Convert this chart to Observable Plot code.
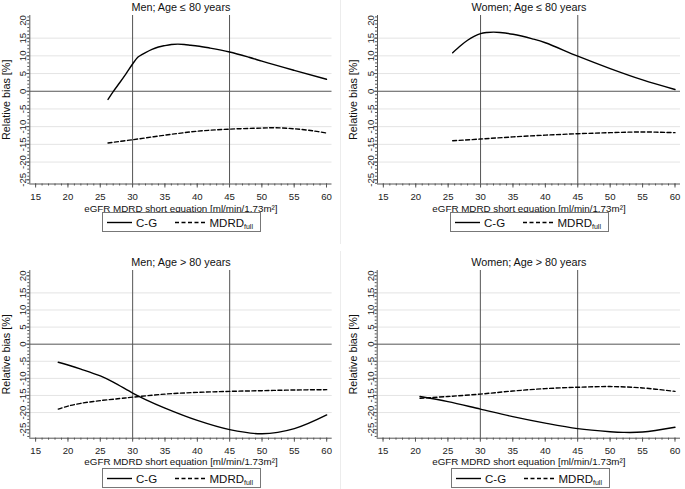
<!DOCTYPE html>
<html>
<head>
<meta charset="utf-8">
<script src="https://cdn.jsdelivr.net/npm/d3@7"></script>
<script src="https://cdn.jsdelivr.net/npm/@observablehq/plot@0.6"></script>
<style>
  html, body { margin: 0; padding: 0; background: #fff; }
  #wrap { position: relative; width: 685px; height: 489px; overflow: hidden; font-family: "Liberation Sans", Arial, sans-serif; }
  .panel { position: absolute; }
  .panel svg { overflow: visible; }
  .legend { position: absolute; box-sizing: border-box; border: 1px solid #777; background: #fff; }
  .sep { position: absolute; width: 1px; background: #ececec; }
</style>
</head>
<body>
<div id="wrap"></div>
<script>
// ---- Tick labels / reference values ----
const xTicks = [15, 20, 25, 30, 35, 40, 45, 50, 55, 60];
const yTicks = [-25, -20, -15, -10, -5, 0, 5, 10, 15, 20];
const gridY = [-20, -15, -10, -5, 5, 10, 15];
const refX = [30, 45];
const titles = ["Men; Age \u2264 80 years", "Women; Age \u2264 80 years", "Men; Age > 80 years", "Women; Age > 80 years"];
const xLabel = "eGFR MDRD short equation [ml/min/1.73m\u00B2]";
const yLabel = "Relative bias [%]";
const seriesNames = ["C-G", "MDRD"];

// ---- Men, age <= 80 ----
const menLo_cg_x = [26.2, 27, 28, 29, 30, 30.8, 31.5, 32, 33, 34, 35, 36, 37, 38, 39, 40, 42, 45, 48, 50, 55, 60];
const menLo_cg_y = [-2.3, -0.1, 2.4, 5.0, 7.7, 9.6, 10.4, 10.9, 11.8, 12.5, 12.9, 13.2, 13.3, 13.2, 13.0, 12.8, 12.2, 11.1, 9.6, 8.5, 5.9, 3.4];
const menLo_md_x = [26.2, 30, 35, 40, 45, 50, 52, 55, 58, 60];
const menLo_md_y = [-14.6, -13.7, -12.4, -11.3, -10.7, -10.4, -10.3, -10.6, -11.2, -11.8];

// ---- Women, age <= 80 ----
const womLo_cg_x = [25.7, 27, 28, 29, 30, 31, 32, 33, 35, 38, 40, 45, 50, 55, 60];
const womLo_cg_y = [10.9, 13.0, 14.4, 15.5, 16.3, 16.6, 16.7, 16.6, 16.1, 14.8, 13.7, 9.9, 6.4, 3.2, 0.5];
const womLo_md_x = [25.7, 30, 35, 40, 45, 50, 55, 60];
const womLo_md_y = [-14.0, -13.5, -12.9, -12.4, -12.0, -11.7, -11.5, -11.7];

// ---- Men, age > 80 ----
const menHi_cg_x = [18.5, 20, 22, 25, 27, 30, 32, 35, 40, 45, 50, 55, 60];
const menHi_cg_y = [-5.3, -6.1, -7.3, -9.3, -11.1, -14.3, -16.2, -18.7, -22.3, -25.0, -26.2, -24.7, -20.7];
const menHi_md_x = [18.5, 20, 22, 25, 28, 30, 35, 40, 45, 50, 55, 60];
const menHi_md_y = [-19.0, -18.1, -17.3, -16.5, -15.9, -15.5, -14.6, -14.1, -13.8, -13.6, -13.4, -13.3];

// ---- Women, age > 80 ----
const womHi_cg_x = [20.7, 25, 30, 35, 40, 45, 50, 52, 55, 60];
const womHi_cg_y = [-15.3, -16.8, -19.0, -21.2, -23.1, -24.7, -25.6, -25.8, -25.7, -24.3];
const womHi_md_x = [20.7, 25, 30, 35, 40, 45, 50, 55, 60];
const womHi_md_y = [-15.8, -15.3, -14.6, -13.7, -13.0, -12.6, -12.4, -12.8, -13.8];

const toRows = (xs, ys) => xs.map((x, i) => ({x, y: ys[i]}));

const FONT = "'Liberation Sans', Arial, sans-serif";
const AX = "#555";
const wrap = document.getElementById("wrap");

function panel(cfg) {
  const xDomain = [14.1, 60.85];
  const yDomain = cfg.yDomain;
  const minorX = d3.range(15, 61);
  const minorY = d3.range(Math.ceil(yDomain[0]), Math.floor(yDomain[1]) + 1);
  const chart = Plot.plot({
    width: cfg.width,
    height: cfg.height,
    marginTop: cfg.mt,
    marginBottom: cfg.mb,
    marginLeft: cfg.ml,
    marginRight: cfg.mr,
    style: {fontFamily: FONT, fontSize: "10px", background: "transparent", overflow: "visible", color: "#222"},
    x: {domain: xDomain, label: null},
    y: {domain: yDomain, label: null},
    marks: [
      Plot.ruleY(gridY, {stroke: "#e4e4e4", strokeWidth: 1}),
      Plot.ruleY([0], {stroke: AX, strokeWidth: 1}),
      Plot.ruleX(refX, {stroke: AX, strokeWidth: 1}),
      Plot.ruleX([xDomain[0]], {stroke: AX, strokeWidth: 1}),
      Plot.ruleY([yDomain[0]], {stroke: AX, strokeWidth: 1}),
      Plot.axisX({ticks: minorX, tickSize: 2, tickFormat: () => "", label: null, stroke: AX}),
      Plot.axisX({ticks: xTicks, tickSize: 4, tickPadding: 5.3, tickFormat: d => String(d), label: null, stroke: AX, fill: "#222", fontSize: 9.6}),
      Plot.axisY({ticks: minorY, tickSize: 2, tickFormat: () => "", label: null, stroke: AX}),
      Plot.axisY({ticks: yTicks, tickSize: 3, tickPadding: 0.5, tickRotate: -90, tickFormat: d => String(d), label: null, stroke: AX, fill: "#222", fontSize: 9.6}),
      Plot.line(toRows(cfg.cgX, cfg.cgY), {x: "x", y: "y", stroke: "#000", strokeWidth: 1.4, curve: cfg.cgCurve || "catmull-rom"}),
      Plot.line(toRows(cfg.mdX, cfg.mdY), {x: "x", y: "y", stroke: "#000", strokeWidth: 1.4, strokeDasharray: "4,2.5", curve: "catmull-rom"}),
      Plot.text([cfg.title], {text: d => d, frameAnchor: "top", textAnchor: "middle", lineAnchor: "middle", dy: -cfg.titleOff, fontSize: 10.8, fill: "#111"}),
      Plot.text([xLabel], {text: d => d, frameAnchor: "bottom", textAnchor: "middle", lineAnchor: "middle", dy: cfg.xlOff, fontSize: 9.8, fill: "#111"}),
      Plot.text([yLabel], {text: d => d, frameAnchor: "left", textAnchor: "middle", lineAnchor: "middle", dx: -23.5, rotate: -90, fontSize: 10.8, fill: "#111"})
    ]
  });
  const div = document.createElement("div");
  div.className = "panel";
  div.style.left = cfg.left + "px";
  div.style.top = cfg.top + "px";
  div.appendChild(chart);
  wrap.appendChild(div);

  // legend box
  const lg = document.createElement("div");
  lg.className = "legend";
  lg.style.left = cfg.lgLeft + "px";
  lg.style.top = cfg.lgTop + "px";
  lg.style.width = "159px";
  lg.style.height = "20px";
  lg.innerHTML =
    `<svg width="157" height="18" style="display:block;font-family:${FONT};font-size:11.5px">
      <line x1="4" x2="29" y1="9.5" y2="9.5" stroke="#000" stroke-width="1.4"/>
      <text x="33" y="13.5" fill="#111">${seriesNames[0]}</text>
      <line x1="72" x2="103" y1="9.5" y2="9.5" stroke="#000" stroke-width="1.4" stroke-dasharray="4,2.5"/>
      <text x="106.5" y="13.5" fill="#111">${seriesNames[1]}<tspan font-size="7" dy="2">full</tspan></text>
    </svg>`;
  wrap.appendChild(lg);
}

// faint separators between sub-figures
[[0, 244], [251, 238]].forEach(([t, h]) => {
  const s = document.createElement("div");
  s.className = "sep";
  s.style.left = "340px"; s.style.top = t + "px"; s.style.height = h + "px";
  wrap.appendChild(s);
});

const topY = [-26.2, 21.4];
const botY = [-27.5, 21.55];

panel({title: titles[0], left: 0, top: 0, width: 340, height: 212, mt: 15, mb: 28.5, ml: 29.3, mr: 8.5, titleOff: 7.5, xlOff: 24.8,
  yDomain: topY, cgX: menLo_cg_x, cgY: menLo_cg_y, mdX: menLo_md_x, mdY: menLo_md_y, lgLeft: 102, lgTop: 212, cgCurve: "monotone-x"});
panel({title: titles[1], left: 347, top: 0, width: 338, height: 212, mt: 15, mb: 28.5, ml: 30, mr: 5, titleOff: 7.5, xlOff: 24.8,
  yDomain: topY, cgX: womLo_cg_x, cgY: womLo_cg_y, mdX: womLo_md_x, mdY: womLo_md_y, lgLeft: 450, lgTop: 212});
panel({title: titles[2], left: 0, top: 250, width: 340, height: 217.5, mt: 20, mb: 29.8, ml: 29.3, mr: 8.3, titleOff: 8.3, xlOff: 24,
  yDomain: botY, cgX: menHi_cg_x, cgY: menHi_cg_y, mdX: menHi_md_x, mdY: menHi_md_y, lgLeft: 102, lgTop: 467.5});
panel({title: titles[3], left: 347, top: 250, width: 338, height: 217.5, mt: 20, mb: 29.8, ml: 29.7, mr: 5, titleOff: 8.3, xlOff: 24,
  yDomain: botY, cgX: womHi_cg_x, cgY: womHi_cg_y, mdX: womHi_md_x, mdY: womHi_md_y, lgLeft: 451, lgTop: 467.5});
</script>
</body>
</html>
